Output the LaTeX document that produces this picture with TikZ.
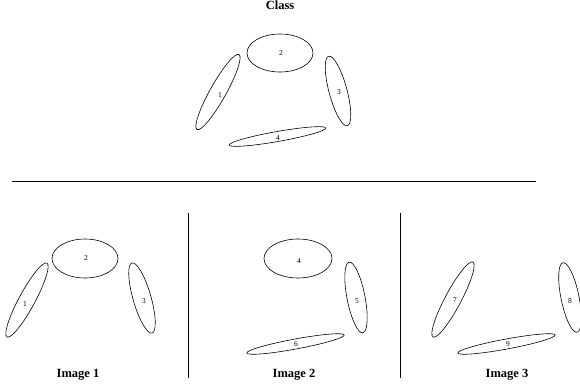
\documentclass[tikz,border=0pt]{standalone}
\usepackage{fontspec}
\setmainfont{Liberation Serif}
\usetikzlibrary{shapes.geometric}

\begin{document}
\begin{tikzpicture}[
    x=1pt, y=-1pt,
    part/.style={draw, ellipse, line width=0.6pt, inner sep=0pt, minimum width=#1},
    num/.style={font=\fontsize{7.5}{8}\selectfont, inner sep=0pt},
    ttl/.style={font=\fontsize{12.5}{14}\selectfont\bfseries, inner sep=0pt},
    sep/.style={line width=0.6pt}
]
\useasboundingbox (0,0) rectangle (580,391);

% class model
\node[ttl] (class) at (280,5) {Class};
\node[part=86pt, minimum height=16pt, rotate=60.75] (c1) at (218,92) {};
\node[part=66pt, minimum height=38pt] (c2) at (280,53) {};
\node[part=72pt, minimum height=18pt, rotate=105] (c3) at (338,91) {};
\node[part=98pt, minimum height=10pt, rotate=10] (c4) at (277.5,136.5) {};
\node[num] (n1) at (220,95) {1};
\node[num] (n2) at (281,53) {2};
\node[num] (n3) at (339,92) {3};
\node[num] (n4) at (278,138) {4};

\coordinate (hl) at (12,181);
\coordinate (hr) at (536,181);
\draw[sep] (hl) -- (hr);

% image 1
\node[part=84pt, minimum height=16pt, rotate=61.6] (a1) at (27,300) {};
\node[part=66pt, minimum height=39pt] (a2) at (85,258.5) {};
\node[part=73pt, minimum height=18pt, rotate=106] (a3) at (142,298) {};
\node[num] (m1) at (25,304) {1};
\node[num] (m2) at (86,258) {2};
\node[num] (m3) at (144,301) {3};
\node[ttl] (img1) at (78,375) {Image 1};

\coordinate (v1t) at (188,213);
\coordinate (v1b) at (188,378);
\draw[sep] (v1t) -- (v1b);

% image 2
\node[part=68pt, minimum height=39pt] (b4) at (298,258.5) {};
\node[part=72pt, minimum height=18pt, rotate=101] (b5) at (356,297.5) {};
\node[part=99pt, minimum height=10pt, rotate=10.5] (b6) at (295.5,344) {};
\node[num] (m4) at (299,261) {4};
\node[num] (m5) at (357,301) {5};
\node[num] (m6) at (296,344) {6};
\node[ttl] (img2) at (294,375) {Image 2};

\coordinate (v2t) at (400,213);
\coordinate (v2b) at (400,378);
\draw[sep] (v2t) -- (v2b);

% image 3
\node[part=85pt, minimum height=16pt, rotate=62] (d7) at (453,299.5) {};
\node[part=71pt, minimum height=18pt, rotate=101.5] (d8) at (570,297.5) {};
\node[part=99pt, minimum height=10pt, rotate=10.5] (d9) at (506.5,344) {};
\node[num] (m7) at (455,300) {7};
\node[num] (m8) at (570,301) {8};
\node[num] (m9) at (508,344) {9};
\node[ttl] (img3) at (507,375) {Image 3};
\end{tikzpicture}
\end{document}
